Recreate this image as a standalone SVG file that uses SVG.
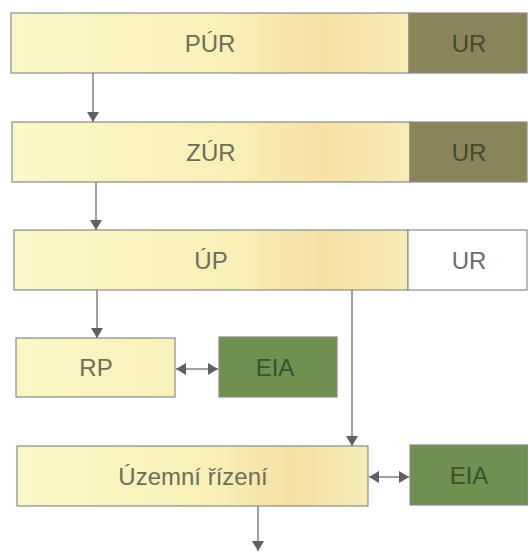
<svg xmlns="http://www.w3.org/2000/svg" width="528" height="553" viewBox="0 0 528 553">
<defs>
<linearGradient id="yel" x1="0" y1="0" x2="1" y2="0">
<stop offset="0" stop-color="#fbf7c8"/>
<stop offset="0.55" stop-color="#f9f0b8"/>
<stop offset="0.78" stop-color="#f5e1a6"/>
<stop offset="1" stop-color="#f8ecb6"/>
</linearGradient>
<linearGradient id="yel2" x1="0" y1="0" x2="1" y2="0">
<stop offset="0" stop-color="#fbf7c8"/>
<stop offset="1" stop-color="#f9f1bc"/>
</linearGradient>
<marker id="ah" viewBox="0 0 10 12" refX="10" refY="6" markerWidth="11" markerHeight="12" markerUnits="userSpaceOnUse" orient="auto-start-reverse">
<path d="M0,0 L10,6 L0,12 Z" fill="#5e5e64"/>
</marker>
<style>
.y{fill:url(#yel);stroke:#8a8a86;stroke-width:1.2}
.y2{fill:url(#yel2);stroke:#8a8a86;stroke-width:1.2}
.ur{fill:#8a8558;stroke:#8a8a86;stroke-width:1.2}
.w{fill:#ffffff;stroke:#8a8a86;stroke-width:1.2}
.g{fill:#6f9050;stroke:#8a8a86;stroke-width:1.2}
text{font-family:"Liberation Sans",Arial,sans-serif;font-size:24px;text-anchor:middle}
.ty{fill:#6e6c5a}
.tu{fill:#48472f}
.tw{fill:#6a6a6e}
.tg{fill:#3e4e30}
.c{stroke:#808086;stroke-width:1.5;fill:none}
</style>
</defs>
<g id="pur">
<rect class="y" x="11" y="13" width="398" height="60"/>
<rect class="ur" x="409" y="13" width="118" height="60"/>
<text class="ty" x="210" y="52">PÚR</text>
<text class="tu" x="469" y="52">UR</text>
</g>
<g id="zur">
<rect class="y" x="12" y="122" width="398" height="60"/>
<rect class="ur" x="410" y="122" width="117" height="60"/>
<text class="ty" x="211" y="161">ZÚR</text>
<text class="tu" x="469" y="161">UR</text>
</g>
<g id="up">
<rect class="y" x="14" y="230" width="394" height="60"/>
<rect class="w" x="408" y="230" width="119" height="60"/>
<text class="ty" x="211" y="269">ÚP</text>
<text class="tw" x="469" y="269">UR</text>
</g>
<g id="rp">
<rect class="y2" x="16" y="338" width="159" height="59"/>
<text class="ty" x="96" y="376">RP</text>
</g>
<g id="eia1">
<rect class="g" x="219" y="337" width="118" height="60"/>
<text class="tg" x="275" y="376">EIA</text>
</g>
<g id="uzemni">
<rect class="y" x="17" y="446" width="351" height="60"/>
<text class="ty" x="193" y="485">Územní řízení</text>
</g>
<g id="eia2">
<rect class="g" x="410" y="445" width="118" height="60"/>
<text class="tg" x="469" y="484">EIA</text>
</g>
<g id="connectors">
<line class="c" x1="93" y1="73" x2="93" y2="122" marker-end="url(#ah)"/>
<line class="c" x1="96" y1="182" x2="96" y2="230" marker-end="url(#ah)"/>
<line class="c" x1="97" y1="290" x2="97" y2="338" marker-end="url(#ah)"/>
<line class="c" x1="352" y1="290" x2="352" y2="446" marker-end="url(#ah)"/>
<line class="c" x1="258" y1="506" x2="258" y2="551" marker-end="url(#ah)"/>
<line class="c" x1="176" y1="369" x2="218" y2="369" marker-start="url(#ah)" marker-end="url(#ah)"/>
<line class="c" x1="369" y1="477" x2="409" y2="477" marker-start="url(#ah)" marker-end="url(#ah)"/>
</g>
</svg>
